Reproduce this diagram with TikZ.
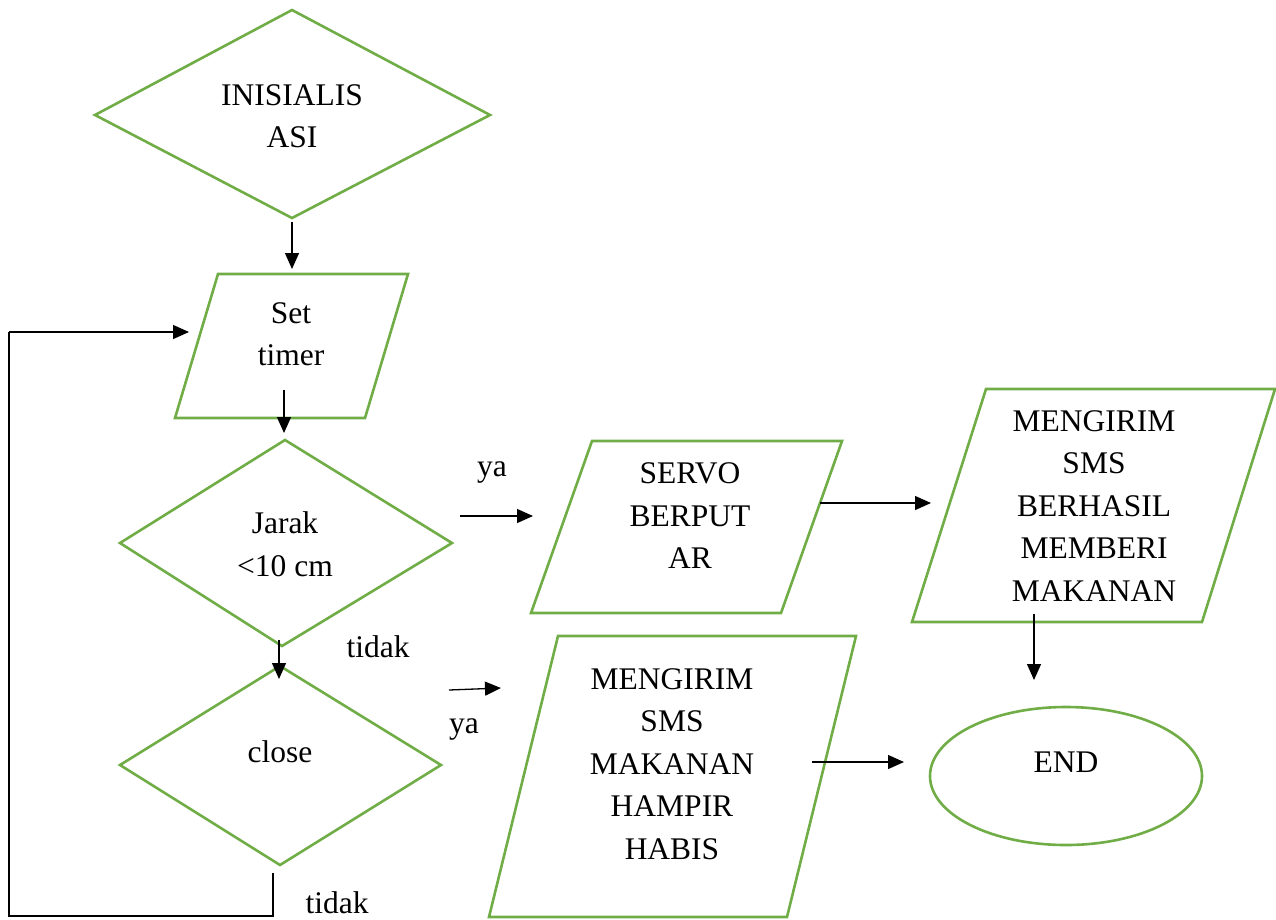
\documentclass[tikz,border=0pt]{standalone}
\usepackage{fontspec}
\setmainfont{Liberation Serif}
\usetikzlibrary{arrows.meta}
\definecolor{sgreen}{HTML}{70AD47}
\tikzset{
  shapeline/.style={draw=sgreen,line width=2.6pt,line join=miter},
  txt/.style={align=center,font=\fontsize{31.5}{42.5}\selectfont,inner sep=0pt},
  conn/.style={draw=black,line width=1.3pt,-{Triangle[length=16pt,width=14pt]}},
  plain/.style={draw=black,line width=1.3pt}
}
\begin{document}
\begin{tikzpicture}[x=1pt,y=-1pt]
\useasboundingbox (0,0) rectangle (1276,919);
% shapes
\draw[shapeline] (95,115) -- (292,10) -- (490,115) -- (292,218) -- cycle;
\draw[shapeline] (175,418) -- (218,274) -- (408,274) -- (365,418) -- cycle;
\draw[shapeline] (120,543) -- (285,440) -- (452,543) -- (282,646) -- cycle;
\draw[shapeline] (120,765) -- (280,666) -- (441,765) -- (280,865) -- cycle;
\draw[shapeline] (531,613) -- (592,441) -- (842,441) -- (781,613) -- cycle;
\draw[shapeline] (912,622) -- (986,389) -- (1275,389) -- (1202,622) -- cycle;
\draw[shapeline] (489,917) -- (558,636) -- (856,636) -- (787,917) -- cycle;
\draw[shapeline] (1066,776) ellipse [x radius=136, y radius=69];
% texts
\node[txt] (init) at (292,116) {INISIALIS\\ASI};
\node[txt] (timer) at (291,334) {Set\\timer};
\node[txt] (jarak) at (285,544) {Jarak\\<10 cm};
\node[txt] (close) at (280,752) {close};
\node[txt] (servo) at (690,516) {SERVO\\BERPUT\\AR};
\node[txt] (smsok) at (1094,506) {MENGIRIM\\SMS\\BERHASIL\\MEMBERI\\MAKANAN};
\node[txt] (smslow) at (672,764) {MENGIRIM\\SMS\\MAKANAN\\HAMPIR\\HABIS};
\node[txt] (endn) at (1066,762) {END};
\node[txt] (tidak1) at (378,647) {tidak};
\node[txt] (tidak2) at (337,903) {tidak};
\node[txt] (ya1) at (492,472) {ya};
\node[txt] (ya2) at (464,729) {ya};
% connector coordinates
\coordinate (a1) at (292,222); \coordinate (a2) at (292,269);
\coordinate (b1) at (284,390); \coordinate (b2) at (284,433);
\coordinate (c1) at (279,640); \coordinate (c2) at (279,679);
\coordinate (d1) at (460,516); \coordinate (d2) at (533,516);
\coordinate (e1) at (820,503); \coordinate (e2) at (931,503);
\coordinate (f1) at (1034,614); \coordinate (f2) at (1034,680);
\coordinate (g1) at (449,690); \coordinate (g2) at (501,688);
\coordinate (h1) at (812,762); \coordinate (h2) at (904,762);
\coordinate (l1) at (273,873); \coordinate (l2) at (273,916);
\coordinate (l3) at (9,916); \coordinate (l4) at (9,332);
\coordinate (l5) at (189,332);
% connectors
\draw[conn] (a1) -- (a2);
\draw[conn] (b1) -- (b2);
\draw[conn] (c1) -- (c2);
\draw[conn] (d1) -- (d2);
\draw[conn] (e1) -- (e2);
\draw[conn] (f1) -- (f2);
\draw[conn] (g1) -- (g2);
\draw[conn] (h1) -- (h2);
\draw[plain] (l1) -- (l2) -- (l3) -- (l4);
\draw[conn] (l4) -- (l5);
\end{tikzpicture}
\end{document}
